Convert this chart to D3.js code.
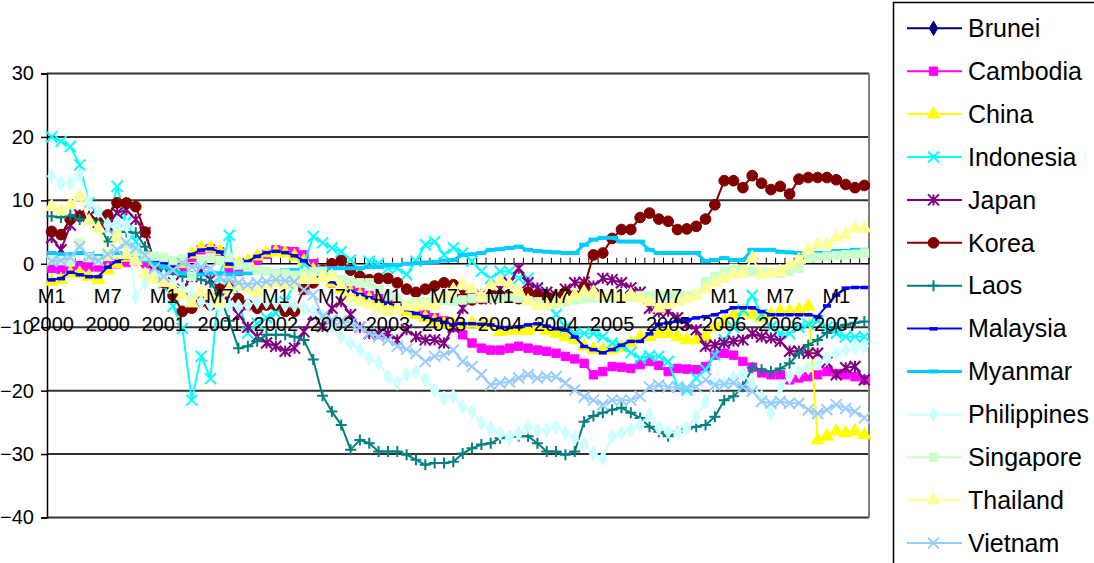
<!DOCTYPE html>
<html>
<head>
<meta charset="utf-8">
<script src="https://cdn.jsdelivr.net/npm/d3@7"></script>
<style>
  body { margin: 0; background: #fff; }
  svg { display: block; }
  text { font-family: "Liberation Sans", Arial, sans-serif; fill: #000; }
</style>
</head>
<body>
<svg id="chart" width="1094" height="563"></svg>
<script>
// Monthly series, M1 2000 to M4 2007 (88 months)
const years = [2000, 2001, 2002, 2003, 2004, 2005, 2006, 2007];
const monthCount = 88;
const yTicks = [-40, -30, -20, -10, 0, 10, 20, 30];

// Brunei: no monthly values reported
const brunei = [];

const cambodia = [
  -0.7, -0.9, -0.5, -0.3, -0.5, -0.5, -0.3, 0, 0.2, 0.5, 0, -0.5,
  -0.7, -1, -0.5, 1, 2.2, 2.4, 1.9, -1, -1.2, -0.8, 0.5, 1.5,
  2.2, 2, 1.9, 1.4, 0, -1.5, -3, -3.5, -4, -4.5, -5, -5.5,
  -6, -6.5, -7, -7.5, -8, -8.5, -9, -10, -11.2, -12.5, -13.3, -13.6,
  -13.6, -13.3, -13, -13.3, -13.6, -13.8, -14.1, -14.6, -15, -15.7, -17.5, -17,
  -16.2, -16.3, -16.5, -15.9, -15.4, -16, -17, -16.5, -16.6, -16.7, -16.2, -14.4,
  -14.1, -14.4, -15.4, -16.3, -17.2, -17.5, -17.5, -18.3, -18, -17.8, -17.5, -17,
  -17.3, -17.5, -17.8, -18.3
];

const china = [
  -2.8, -2.5, -1.5, -1.5, -2, -2.5, -1, 0, 1, 1.5, 1.2, 0.3,
  0, -0.5, 0, 1.5, 2.5, 2.5, 2, 0, 0, 0.4, 1.2, 1.7,
  1.9, 1.7, 1.2, 0.4, -1, -2, -3, -4, -4.5, -5, -5.5, -6,
  -6.5, -7, -7.5, -8, -8.5, -9, -9.5, -9.5, -9.6, -9.4, -9.5, -9.6,
  -10.7, -10.5, -10.5, -10.5, -10, -10.5, -11, -11.5, -12, -13, -13.5, -13.6,
  -13.6, -13.2, -12.5, -11.5, -11.5, -11, -11, -11.5, -12, -12, -11.5, -10,
  -9, -8, -7.5, -8, -8.5, -8, -7.5, -7.5, -7.3, -6.7, -27.8, -27.2,
  -26.4, -26.7, -26.4, -27
];

const indonesia = [
  20, 19.3, 18.5, 15.6, 9.6, 7.5, 5.5, 12.2, 6.7, 3.5, 1, -0.7,
  -3, -6.7, -10.2, -21.5, -14.6, -18.1, -2, 4.5, -6, -10.9, -9.4, -8.5,
  -7.8, -6, -3, 0, 4.3, 3.3, 2.5, 1.9, 0.6, -1.2, 0.4, 0,
  -0.7, -0.7, -1.7, 0.4, 3, 3.5, 1.4, 2.5, 1.7, 0.4, -1.2, -2.3,
  -1.2, -1.2, -2.3, -2.3, -4, -6, -8, -10, -11, -11, -11, -11.5,
  -12.5, -13, -14, -14.9, -14.5, -14.6, -15.4, -19.4, -19.9, -18, -16.7, -14.4,
  -12, -10, -7.3, -5, -8, -10, -11, -11, -10, -9.5, -9, -10,
  -11, -11.5, -11.5, -11.5
];

const japan = [
  4.1, 2.2, 6.1, 7.7, 7.5, 6.5, 6, 8, 8.5, 7, 4.9, 0.5,
  -2, -3, -4, -2, -1.2, -2.5, -4, -6, -8, -10, -11.5, -12.5,
  -13, -13.8, -13.3, -10.7, -8, -9.9, -7, -6, -8, -10, -11, -11,
  -11, -12, -10.4, -11.5, -12, -12, -12.5, -10, -7, -5, -4.9, -5.5,
  -4, -3, -0.7, -3, -3.8, -4.5, -5, -4, -3, -2.9, -3.5, -2.3,
  -2.5, -3, -3.8, -4.5, -7, -7.6, -7.5, -8.5, -9.5, -10.4, -13, -12.8,
  -12.5, -12.2, -12, -11, -11.5, -11.7, -12.2, -13.8, -13.8, -14.1, -14.1, -15.5,
  -17.5, -16.4, -16.2, -18.3
];

const korea = [
  5.1, 4.6, 7, 7.5, 7, 6.5, 7.7, 9.6, 9.6, 9, 5, 0,
  -3, -5, -7.5, -7, -6, -6.5, -4, -3.5, -5.5, -6.5, -7, -6.5,
  -6.5, -7.5, -7.5, -4, -3, -1, 0, 0.5, -1, -2, -2.5, -2.3,
  -2.3, -3, -4, -4.5, -4, -3.5, -3, -3.3, -5, -5.7, -5.5, -4.5,
  -5, -5.2, -5.5, -4.5, -5, -5.2, -5.5, -4.5, -5, -3.7, 1.4, 1.7,
  4, 5.4, 5.4, 7.3, 8, 7.05, 6.7, 5.4, 5.5, 5.9, 7.05, 9.3,
  13.1, 13.1, 12, 13.9, 12.7, 11.7, 12.2, 11, 13.35, 13.6, 13.6, 13.6,
  13.25, 12.5, 12, 12.35
];

const laos = [
  7.5, 7.3, 7.7, 7, 7, 6.5, 3.5, 5.1, 5, 4.9, 2.7, 0,
  -1, -1.5, -2, -2, -2.5, -3, -5, -9, -13.3, -13, -12.2, -11.2,
  -11.2, -11.2, -11.5, -12, -15.1, -20.8, -23.3, -25.4, -29.3, -27.8, -28.3, -29.6,
  -29.6, -29.6, -30.1, -30.9, -31.7, -31.4, -31.4, -31.2, -29.9, -29.1, -28.5, -28.3,
  -27.5, -27.3, -27.2, -27.2, -28.3, -29.6, -29.6, -30.1, -29.6, -24.9, -24, -23.5,
  -23, -22.7, -23.5, -24.3, -25.7, -26.5, -27.2, -26.5, -26, -25.7, -25.4, -24.1,
  -21.5, -20.9, -19.4, -16.4, -16.7, -17, -16.5, -15.7, -14.1, -12.8, -12, -10.9,
  -10.1, -9.6, -9.3, -9.1
];

const malaysia = [
  -2.5, -2.3, -1.3, -1.7, -2, -2, -0.5, 0.4, 1, 1.2, 1.2, 0.5,
  0.2, -0.3, 0.2, 1.5, 2.2, 2.4, 1.9, 0, -0.3, 0.4, 1.2, 1.8,
  2, 1.8, 1.3, 0.5, -0.8, -1.8, -2.8, -3.8, -4.3, -4.8, -5.3, -5.8,
  -6.2, -6.7, -7.2, -7.8, -8.3, -8.8, -9.2, -9.6, -9.4, -9.4, -9.5, -9.6,
  -10, -10, -9.9, -9.6, -9.4, -9.8, -10.2, -10.4, -11.5, -13, -13.5, -14,
  -13.5, -12.8, -12.2, -12.2, -11, -9.5, -9.3, -9, -8.8, -8.5, -8.3, -8,
  -7.5, -6.9, -6.9, -6.9, -7.5, -8, -8, -8, -8, -8, -8.3, -6.6,
  -4.9, -3.8, -3.7, -3.7
];

const myanmar = [
  1.7, 1.5, 1.5, 1.7, 1.5, 1.2, 1.5, 1.7, 1.5, 1.2, 0.5, 0,
  -0.5, -1, -1.5, -1.5, -1.7, -1.5, -1.5, -1.7, -1.5, -1.5, -1.2, -1.5,
  -1.2, -1, -1, -1.2, -1, -0.7, -0.7, -0.7, -0.7, -0.7, -0.5, -0.5,
  -0.2, -0.2, 0, 0.1, 0.2, 0.3, 0.5, 0.6, 1.4, 1.5, 1.7, 2.2,
  2.3, 2.5, 2.7, 2.2, 2, 1.9, 1.8, 1.7, 1.7, 3, 3.8, 4.1,
  4.1, 3.5, 3.5, 3.5, 2.2, 1.7, 1.7, 1.7, 1.7, 1.7, 0.4, 0.6,
  0.9, 0.6, 0.6, 2.2, 2.2, 2.2, 1.9, 1.8, 1.7, 1.4, 1.7, 1.7,
  2, 2, 2.2, 2.2
];

const philippines = [
  13.8, 12.7, 12.7, 14, 9.6, 8.3, 6.2, 6.5, 6, -5.2, -3, -1.5,
  -2, -3, -4, -5, -6, -6.5, -7, -6.5, -6.7, -6.5, -6, -6,
  -6, -6.5, -6.5, -7, -7.5, -8.3, -10, -11.5, -12.5, -13.6, -14.9, -15.6,
  -17.8, -18.8, -17.5, -17, -18.3, -19.9, -21.2, -20.9, -22.5, -23.3, -25.1, -25.9,
  -26.7, -27.5, -26.7, -25.7, -26.2, -26.2, -25.7, -26.7, -27.5, -28.5, -29.9, -30.7,
  -27.2, -26.7, -26.2, -25.4, -23.8, -25.9, -26.4, -26.7, -25.9, -24.1, -21.7, -19,
  -18.8, -18, -17.3, -19, -21, -23.6, -19.4, -17.8, -17, -16.4, -15.7, -14.9,
  -14.1, -13.6, -13.3, -13
];

const singapore = [
  0.6, 0.5, 0.3, 3.3, 1, 0.5, 1.5, 4.6, 3, 2, 1.2, 1.2,
  1, 0.5, 0.8, -2, 0.5, 1, 0.5, 1, -0.2, -0.5, -1, -1.2,
  -1.5, -1.5, -1.8, -1.5, -1.2, -1.2, -2, -2.5, -2.8, -3, -3, -4,
  -5, -5.5, -6.5, -6, -6, -6, -5.8, -5.9, -5.7, -5.5, -5.4, -5.5,
  -5.5, -5.4, -5.4, -5.8, -6, -6.5, -6.2, -6, -5.7, -5.5, -5.4, -5.3,
  -5.3, -5.5, -5.2, -5, -5, -4.9, -5, -5, -5, -4.9, -2.8, -2,
  -1.2, -0.7, -0.9, -1.2, -1.3, -1.4, -1.5, -1.2, -0.7, 0.9, 1, 1.2,
  1.3, 1.4, 1.5, 1.7
];

const thailand = [
  9, 8.3, 9.3, 10.6, 6.7, 5.6, 1.1, 4.3, 1.4, 0.5, -1.7, -2.5,
  -3, -4, -5, -6.2, -4.4, -5, -6.2, -4, -3.5, -4, -4.5, -3.5,
  -3, -3.5, -3, -2.5, -2.5, -2.2, -2, -3.5, -5.4, -6, -6.5, -7,
  -7.5, -7, -6.7, -6.7, -6.5, -6.7, -5, -4.1, -3.3, -4, -5.2, -3.5,
  -2.8, -3.3, -4.4, -5.9, -6.7, -6.5, -6, -5.5, -5, -4.5, -4.5, -5,
  -5, -5.5, -4.9, -5.5, -6, -7, -6.5, -6, -5.5, -5, -4, -3,
  -2.3, -1.7, -1.5, 0.9, -1.7, -1.5, -1.2, -0.2, 0.6, 2.2, 3, 3,
  4.1, 4.6, 5.6, 5.6
];

const vietnam = [
  0.4, 0.5, 1, 2.7, 1.1, 0.5, 1.5, 2.2, 3.3, 2.5, 1.4, -0.7,
  -2, -1, 0.1, -0.5, -0.5, -0.7, -2.3, -2.5, -3, -3.3, -3, -2.8,
  -2.5, -2.7, -2.8, -4.1, -4.9, -8.3, -8.8, -9, -9.4, -10, -10.9, -11.5,
  -12, -13, -13.5, -14.1, -15.4, -14.6, -14.4, -13.6, -15.4, -16.2, -17.5, -19.1,
  -18.8, -18.6, -18, -17.5, -18, -17.8, -17.8, -18.8, -19.9, -21, -21.5, -22.2,
  -21.5, -21.5, -21.5, -20.9, -19.4, -19.1, -19.4, -19.5, -19.5, -19.4, -18.3, -19.1,
  -19, -18.8, -19.4, -20.1, -21.7, -22, -21.7, -22, -22, -23, -23.6, -23,
  -22.2, -22.8, -23.3, -24.3
];

// Category labels "M1 2000" ... "M4 2007"
const categories = [];
years.forEach(yr => {
  for (let m = 1; m <= 12 && categories.length < monthCount; m++) categories.push({ m: "M" + m, yr: String(yr) });
});
const catKeys = categories.map(c => c.m + " " + c.yr);

const series = [
  { name: "Brunei",      values: brunei,      color: "#000080", marker: "diamond" },
  { name: "Cambodia",    values: cambodia,    color: "#FF00FF", marker: "square" },
  { name: "China",       values: china,       color: "#FFFF00", marker: "triangle" },
  { name: "Indonesia",   values: indonesia,   color: "#00FFFF", marker: "x" },
  { name: "Japan",       values: japan,       color: "#800080", marker: "star" },
  { name: "Korea",       values: korea,       color: "#800000", marker: "circle" },
  { name: "Laos",        values: laos,        color: "#008080", marker: "plus" },
  { name: "Malaysia",    values: malaysia,    color: "#0000FF", marker: "dash" },
  { name: "Myanmar",     values: myanmar,     color: "#00CCFF", marker: "longdash" },
  { name: "Philippines", values: philippines, color: "#CCFFFF", marker: "diamond" },
  { name: "Singapore",   values: singapore,   color: "#CCFFCC", marker: "square" },
  { name: "Thailand",    values: thailand,    color: "#FFFF99", marker: "triangle" },
  { name: "Vietnam",     values: vietnam,     color: "#99CCFF", marker: "x" }
];

const svg = d3.select("#chart");
const plot = { left: 47, right: 869, top: 73.5, bottom: 517.5 };

const x = d3.scaleBand().domain(catKeys).range([plot.left, plot.right]);
const y = d3.scaleLinear().domain([-40, 30]).range([plot.bottom, plot.top]);
const cx = i => x(catKeys[i]) + x.bandwidth() / 2;

// Gridlines
svg.append("g").selectAll("line")
  .data(yTicks.filter(v => v !== 0))
  .join("line")
  .attr("x1", plot.left).attr("x2", plot.right)
  .attr("y1", d => y(d)).attr("y2", d => y(d))
  .attr("stroke", "#333").attr("stroke-width", 2);

// Plot area right edge
svg.append("line")
  .attr("x1", plot.right).attr("x2", plot.right)
  .attr("y1", plot.top).attr("y2", plot.bottom)
  .attr("stroke", "#808080").attr("stroke-width", 2);

// Value axis
const yAxis = svg.append("g")
  .attr("transform", `translate(${plot.left},0)`)
  .call(d3.axisLeft(y).tickValues(yTicks).tickSize(6).tickPadding(7).tickFormat(d3.format("d")));
yAxis.select(".domain").attr("stroke", "#000").attr("stroke-width", 1.5);
yAxis.selectAll(".tick line").attr("stroke", "#000").attr("stroke-width", 1.5);
yAxis.selectAll(".tick text").attr("font-size", 20).attr("font-family", "Liberation Sans, Arial, sans-serif").attr("fill", "#000");

// Category axis along the zero line
const y0 = y(0);
const xAxis = svg.append("g");
xAxis.append("line")
  .attr("x1", plot.left).attr("x2", plot.right)
  .attr("y1", y0).attr("y2", y0)
  .attr("stroke", "#000").attr("stroke-width", 1.5);
xAxis.selectAll("line.tick")
  .data(catKeys.concat(["__end"]))
  .join("line")
  .attr("class", "tick")
  .attr("x1", d => d === "__end" ? plot.right : x(d))
  .attr("x2", d => d === "__end" ? plot.right : x(d))
  .attr("y1", y0 - 6).attr("y2", y0)
  .attr("stroke", "#000").attr("stroke-width", 1);

// Symbols
const sym = {
  diamond: d3.symbol().type(d3.symbolDiamond).size(60),
  square: d3.symbol().type(d3.symbolSquare).size(70),
  triangle: d3.symbol().type(d3.symbolTriangle).size(75),
  circle: d3.symbol().type(d3.symbolCircle).size(90)
};

function drawMarker(g, type, color, px, py) {
  if (sym[type]) {
    g.append("path").attr("d", sym[type]()).attr("transform", `translate(${px},${py})`)
      .attr("fill", color).attr("stroke", color).attr("stroke-width", 1);
  } else if (type === "x") {
    const r = 5.5;
    g.append("path").attr("d", `M${px - r},${py - r}L${px + r},${py + r}M${px - r},${py + r}L${px + r},${py - r}`)
      .attr("stroke", color).attr("stroke-width", 2).attr("fill", "none");
  } else if (type === "plus") {
    const r = 5.5;
    g.append("path").attr("d", `M${px - r},${py}L${px + r},${py}M${px},${py - r}L${px},${py + r}`)
      .attr("stroke", color).attr("stroke-width", 2).attr("fill", "none");
  } else if (type === "star") {
    const r = 5.5;
    g.append("path").attr("d", `M${px - r},${py - r}L${px + r},${py + r}M${px - r},${py + r}L${px + r},${py - r}M${px},${py - r}L${px},${py + r}`)
      .attr("stroke", color).attr("stroke-width", 2).attr("fill", "none");
  } else if (type === "dash") {
    g.append("rect").attr("x", px - 4).attr("y", py - 1.5).attr("width", 8).attr("height", 3.5).attr("fill", color);
  } else if (type === "longdash") {
    g.append("rect").attr("x", px - 5).attr("y", py - 2).attr("width", 10).attr("height", 4).attr("fill", color);
  }
}

const line = d3.line()
  .defined(d => d != null)
  .x((d, i) => cx(i))
  .y(d => y(d));

const seriesLayer = svg.append("g");
series.forEach(s => {
  const g = seriesLayer.append("g");
  if (!s.values.length) return;
  g.append("path").datum(s.values)
    .attr("d", line)
    .attr("fill", "none")
    .attr("stroke", s.color)
    .attr("stroke-width", s.marker === "longdash" ? 3 : 2)
    .attr("stroke-linejoin", "round");
  s.values.forEach((v, i) => { if (v != null) drawMarker(g, s.marker, s.color, cx(i), y(v)); });
});

// Category labels every six months, two lines each
const labelG = svg.append("g");
categories.forEach((c, i) => {
  if (i % 6 !== 0) return;
  const t = labelG.append("text")
    .attr("x", cx(i)).attr("y", 303)
    .attr("text-anchor", "middle").attr("font-size", 20);
  t.append("tspan").attr("x", cx(i)).text(c.m);
  t.append("tspan").attr("x", cx(i)).attr("dy", 27.5).text(c.yr);
});

// Legend
const legend = svg.append("g");
legend.append("rect")
  .attr("x", 893.5).attr("y", 2.5).attr("width", 220).attr("height", 580)
  .attr("fill", "#fff").attr("stroke", "#000").attr("stroke-width", 1.5);
series.forEach((s, k) => {
  const ly = 28.3 + k * 42.9;
  legend.append("line")
    .attr("x1", 907).attr("x2", 962).attr("y1", ly).attr("y2", ly)
    .attr("stroke", s.color).attr("stroke-width", s.marker === "longdash" ? 3 : 2);
  drawMarker(legend, s.marker, s.color, 933.5, ly);
  legend.append("text")
    .attr("x", 968).attr("y", ly).attr("dy", "0.35em")
    .attr("font-size", 25).text(s.name);
});
</script>
</body>
</html>
